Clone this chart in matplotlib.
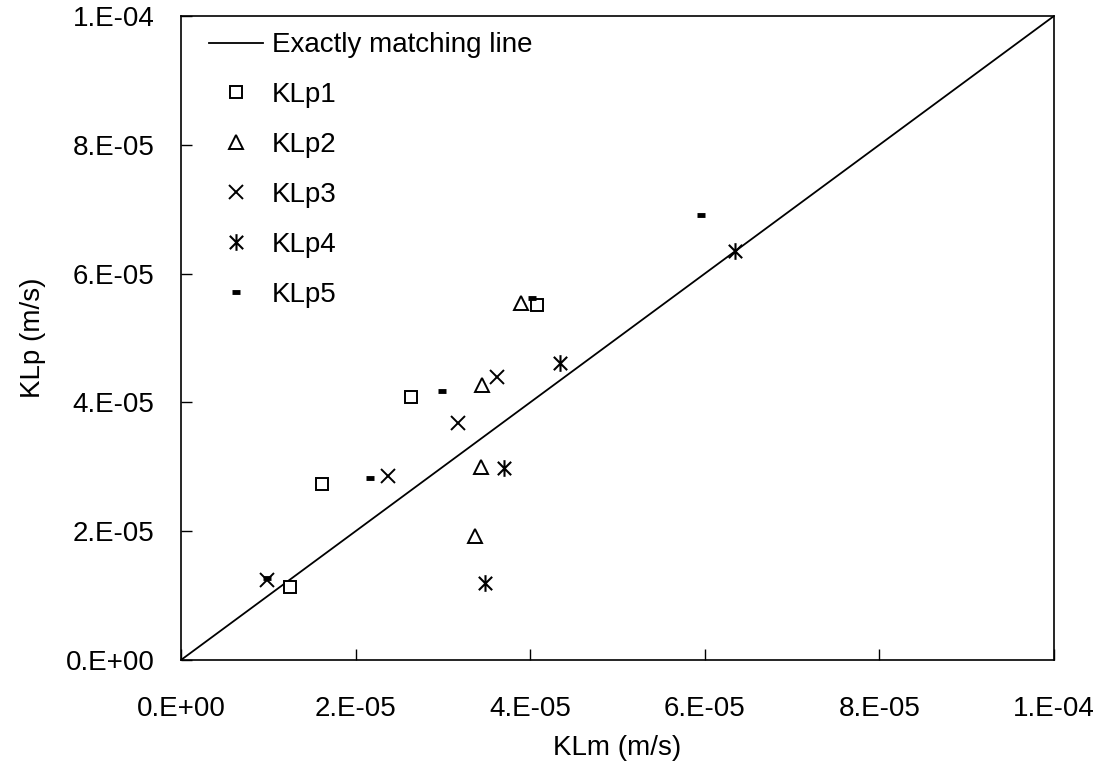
import matplotlib
matplotlib.use("Agg")
import matplotlib.pyplot as plt
from matplotlib.path import Path
from matplotlib.ticker import FixedLocator, FixedFormatter

plt.rcParams["font.family"] = ["Liberation Sans", "DejaVu Sans"]

# values, in units of 1e-6 m/s
klp1_m = [12.5, 16.1, 26.4, 40.8]
klp1_p = [11.4, 27.3, 40.8, 55.2]
klp2_m = [33.7, 34.4, 34.5, 38.9]
klp2_p = [19.3, 30.0, 42.7, 55.4]
klp3_m = [9.9, 23.7, 31.7, 36.2]
klp3_p = [12.4, 28.6, 36.8, 44.0]
klp4_m = [34.8, 37.0, 43.4, 63.5]
klp4_p = [11.9, 29.8, 46.1, 63.5]
klp5_m = [9.9, 21.7, 29.9, 40.2, 59.6]
klp5_p = [12.8, 28.2, 41.7, 56.2, 69.1]

ticks = [0, 2e-5, 4e-5, 6e-5, 8e-5, 1e-4]
tick_labels = ["0.E+00", "2.E-05", "4.E-05", "6.E-05", "8.E-05", "1.E-04"]

def scale(vals):
    return [v * 1e-6 for v in vals]

# asterisk like excel: x with a vertical bar through it
star = Path(
    [(0, -1), (0, 1), (-0.8, -0.8), (0.8, 0.8), (-0.8, 0.8), (0.8, -0.8)],
    [Path.MOVETO, Path.LINETO, Path.MOVETO, Path.LINETO, Path.MOVETO, Path.LINETO],
)

fig = plt.figure(figsize=(11.09, 7.77), dpi=100)
ax = fig.add_axes([0.1632, 0.1506, 0.7872, 0.8288])

ax.plot([0, 1e-4], [0, 1e-4], color="black", linewidth=1.3, label="Exactly matching line")
ax.plot(scale(klp1_m), scale(klp1_p), linestyle="none", marker="s", markersize=8,
        markerfacecolor="white", markeredgecolor="black", markeredgewidth=1.4, label="KLp1")
ax.plot(scale(klp2_m), scale(klp2_p), linestyle="none", marker="^", markersize=9.5,
        markerfacecolor="white", markeredgecolor="black", markeredgewidth=1.4, label="KLp2")
ax.plot(scale(klp3_m), scale(klp3_p), linestyle="none", marker="x", markersize=9.5,
        color="black", markeredgewidth=1.4, label="KLp3")
ax.plot(scale(klp4_m), scale(klp4_p), linestyle="none", marker=star, markersize=12,
        color="black", markeredgewidth=1.5, markerfacecolor="none", label="KLp4")
ax.plot(scale(klp5_m), scale(klp5_p), linestyle="none", marker="_", markersize=6,
        color="black", markeredgewidth=3.5, label="KLp5")

ax.set_xlim(0, 1e-4)
ax.set_ylim(0, 1e-4)
ax.xaxis.set_major_locator(FixedLocator(ticks))
ax.yaxis.set_major_locator(FixedLocator(ticks))
ax.xaxis.set_major_formatter(FixedFormatter(tick_labels))
ax.yaxis.set_major_formatter(FixedFormatter(tick_labels))
ax.tick_params(direction="in", length=8, width=1, labelsize=20)
ax.tick_params(axis="x", pad=26)
ax.tick_params(axis="y", pad=19)
for s in ax.spines.values():
    s.set_linewidth(1.2)

ax.set_xlabel("KLm (m/s)", fontsize=20, labelpad=9)
ax.set_ylabel("KLp (m/s)", fontsize=20, labelpad=14)

ax.legend(loc="upper left", bbox_to_anchor=(0.029, 0.979), frameon=False, fontsize=20,
          handlelength=1.95, labelspacing=0.86, borderaxespad=0, borderpad=0.1,
          handletextpad=0.3)

fig.savefig("out.png", dpi=100)
